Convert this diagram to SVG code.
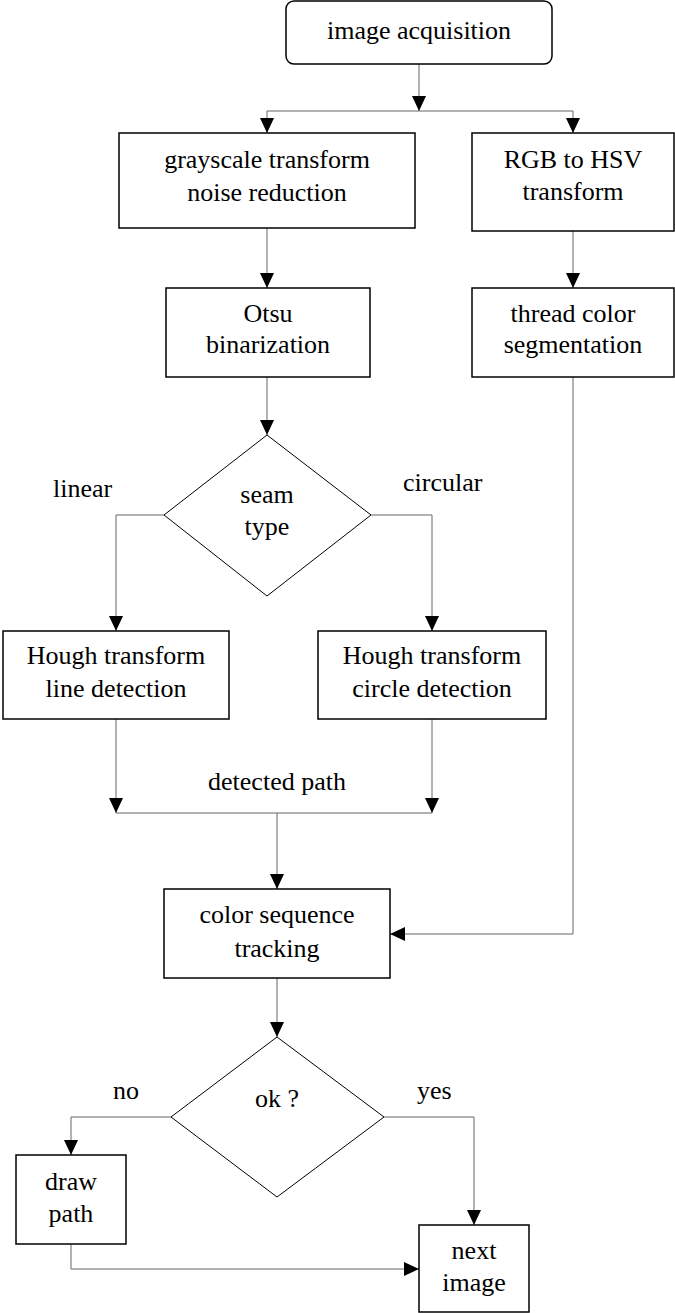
<svg xmlns="http://www.w3.org/2000/svg" width="675" height="1313" viewBox="0 0 675 1313">
<style>
.box{fill:#fff;stroke:#000;stroke-width:1.5}
.dia{fill:#fff;stroke:#000;stroke-width:1}
.ln{fill:none;stroke:#666;stroke-width:1}
text{font-family:'Liberation Serif','DejaVu Serif',serif;font-size:26px;fill:#000}
.t{text-anchor:middle}
</style>
<defs>
<marker id="ah" viewBox="0 0 15 14" refX="15" refY="7" markerWidth="15" markerHeight="14" markerUnits="userSpaceOnUse" orient="auto">
<path d="M0,0 L15,7 L0,14 z" fill="#000"/>
</marker>
</defs>
<g id="connectors">
<line class="ln" x1="419" y1="64" x2="419" y2="111" marker-end="url(#ah)"/>
<line class="ln" x1="267" y1="111" x2="573" y2="111"/>
<line class="ln" x1="267" y1="111" x2="267" y2="133" marker-end="url(#ah)"/>
<line class="ln" x1="573" y1="111" x2="573" y2="133" marker-end="url(#ah)"/>
<line class="ln" x1="267" y1="228" x2="267" y2="288" marker-end="url(#ah)"/>
<line class="ln" x1="573" y1="231" x2="573" y2="288" marker-end="url(#ah)"/>
<line class="ln" x1="267" y1="377" x2="267" y2="435" marker-end="url(#ah)"/>
<polyline class="ln" points="164,515 116,515 116,631" marker-end="url(#ah)"/>
<polyline class="ln" points="371,515 432,515 432,631" marker-end="url(#ah)"/>
<line class="ln" x1="116" y1="719" x2="116" y2="813" marker-end="url(#ah)"/>
<line class="ln" x1="432" y1="719" x2="432" y2="813" marker-end="url(#ah)"/>
<line class="ln" x1="116" y1="813" x2="432" y2="813"/>
<line class="ln" x1="277" y1="813" x2="277" y2="889" marker-end="url(#ah)"/>
<polyline class="ln" points="573,377 573,934 390,934" marker-end="url(#ah)"/>
<line class="ln" x1="277" y1="978" x2="277" y2="1037" marker-end="url(#ah)"/>
<polyline class="ln" points="171,1117 71,1117 71,1155" marker-end="url(#ah)"/>
<polyline class="ln" points="384,1117 474,1117 474,1225" marker-end="url(#ah)"/>
<polyline class="ln" points="71,1244 71,1269 419,1269" marker-end="url(#ah)"/>
<text x="53" y="497">linear</text>
<text x="403" y="491">circular</text>
<text class="t" x="277" y="790">detected path</text>
<text x="113" y="1099">no</text>
<text x="417" y="1099">yes</text>
</g>
<g id="image-acquisition">
<rect class="box" x="286" y="1" width="266" height="63" rx="8"/>
<text class="t" x="419" y="39">image acquisition</text>
</g>
<g id="grayscale">
<rect class="box" x="119" y="133" width="296" height="95"/>
<text class="t" x="267" y="168">grayscale transform</text>
<text class="t" x="267" y="201">noise reduction</text>
</g>
<g id="rgb-hsv">
<rect class="box" x="472" y="133" width="202" height="98"/>
<text class="t" x="573" y="168">RGB to HSV</text>
<text class="t" x="573" y="200">transform</text>
</g>
<g id="otsu">
<rect class="box" x="166" y="288" width="204" height="89"/>
<text class="t" x="268" y="322">Otsu</text>
<text class="t" x="268" y="353">binarization</text>
</g>
<g id="thread-color">
<rect class="box" x="472" y="288" width="202" height="89"/>
<text class="t" x="573" y="322">thread color</text>
<text class="t" x="573" y="353">segmentation</text>
</g>
<g id="seam-type">
<polygon class="dia" points="267,435 371,515 267,596 164,515"/>
<text class="t" x="267" y="503">seam</text>
<text class="t" x="267" y="535">type</text>
</g>
<g id="hough-line">
<rect class="box" x="3" y="631" width="226" height="88"/>
<text class="t" x="116" y="664">Hough transform</text>
<text class="t" x="116" y="697">line detection</text>
</g>
<g id="hough-circle">
<rect class="box" x="318" y="631" width="228" height="88"/>
<text class="t" x="432" y="664">Hough transform</text>
<text class="t" x="432" y="697">circle detection</text>
</g>
<g id="color-sequence">
<rect class="box" x="164" y="889" width="226" height="89"/>
<text class="t" x="277" y="923">color sequence</text>
<text class="t" x="277" y="957">tracking</text>
</g>
<g id="ok">
<polygon class="dia" points="277,1037 384,1117 277,1197 171,1117"/>
<text class="t" x="277" y="1107">ok ?</text>
</g>
<g id="draw-path">
<rect class="box" x="16" y="1155" width="110" height="89"/>
<text class="t" x="71" y="1190">draw</text>
<text class="t" x="71" y="1222">path</text>
</g>
<g id="next-image">
<rect class="box" x="419" y="1225" width="110" height="87"/>
<text class="t" x="474" y="1259">next</text>
<text class="t" x="474" y="1291">image</text>
</g>
</svg>
